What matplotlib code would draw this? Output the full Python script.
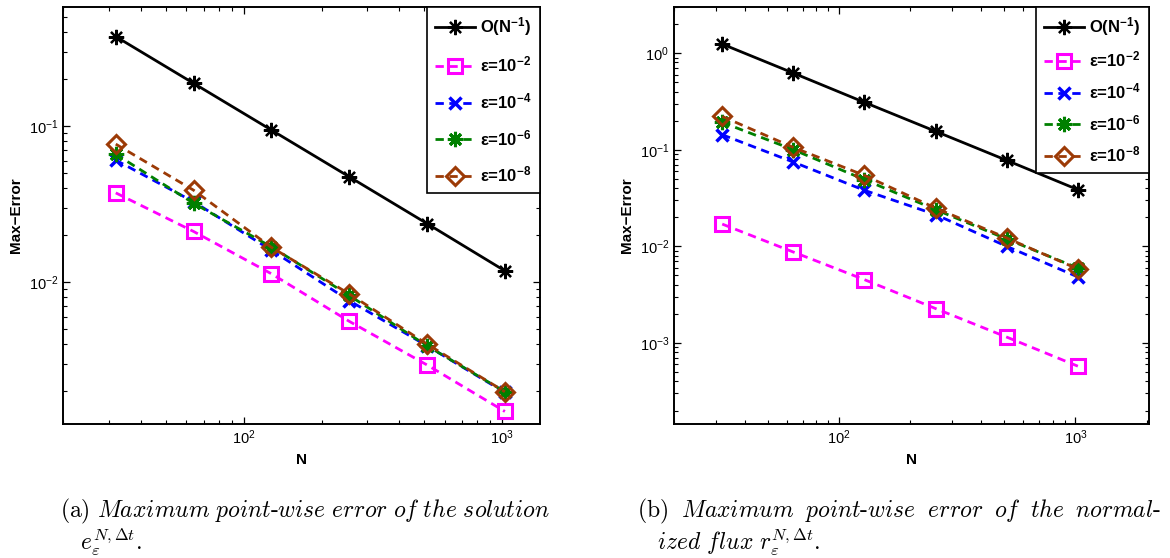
import numpy as np
import matplotlib
matplotlib.use('Agg')
import matplotlib.pyplot as plt

plt.rcParams['font.family'] = ['Liberation Sans', 'DejaVu Sans']
plt.rcParams['mathtext.fontset'] = 'custom'
plt.rcParams['mathtext.rm'] = 'Liberation Sans'
plt.rcParams['mathtext.bf'] = 'Liberation Sans:bold'
plt.rcParams['mathtext.it'] = 'Liberation Sans:italic'

# ---- data ----
N = [32, 64, 128, 256, 512, 1024]

# (a) solution error
ref_a   = [0.375, 0.188, 0.0943, 0.0473, 0.0237, 0.0118]
eps2_a  = [0.0373, 0.0211, 0.0113, 0.0056, 0.00294, 0.00148]
eps4_a  = [0.0605, 0.0327, 0.0160, 0.0076, 0.0039, 0.00196]
eps6_a  = [0.066, 0.032, 0.0168, 0.0082, 0.0039, 0.00198]
eps8_a  = [0.0766, 0.0388, 0.0167, 0.0084, 0.0040, 0.00198]

# (b) normalized flux error
ref_b   = [1.24, 0.621, 0.309, 0.155, 0.0776, 0.0386]
eps2_b  = [0.0170, 0.00873, 0.00452, 0.00227, 0.00115, 0.000575]
eps4_b  = [0.143, 0.0745, 0.038, 0.0213, 0.0100, 0.00482]
eps6_b  = [0.192, 0.100, 0.049, 0.024, 0.0119, 0.00597]
eps8_b  = [0.221, 0.1057, 0.0542, 0.0249, 0.0122, 0.00583]

labels = ['O(N$^{\\mathbf{-1}}$)', 'ε=10$^{\\mathbf{-2}}$', 'ε=10$^{\\mathbf{-4}}$',
          'ε=10$^{\\mathbf{-6}}$', 'ε=10$^{\\mathbf{-8}}$']

BROWN = '#9C3A06'
DASH = (3, 2)


def draw(ax, ref, e2, e4, e6, e8, xlim, ylim, spacing):
    ax.plot(N, ref, '-', color='k', lw=2, marker=(8, 2, 0), ms=11, mew=1.6, label=labels[0])
    ax.plot(N, e2, '--', dashes=DASH, color='#FF00FF', lw=2, marker='s', ms=10,
            mfc='none', mew=2.2, label=labels[1])
    ax.plot(N, e4, '--', dashes=DASH, color='#0000FF', lw=2, marker='x', ms=9,
            mew=2.5, label=labels[2])
    ax.plot(N, e6, '--', dashes=DASH, color='#008000', lw=2, marker=(8, 2, 0), ms=11,
            mew=2.2, label=labels[3])
    ax.plot(N, e8, '--', dashes=DASH, color=BROWN, lw=2, marker='D', ms=9,
            mfc='none', mew=2.2, label=labels[4])
    ax.set_xscale('log')
    ax.set_yscale('log')
    ax.set_xlim(*xlim)
    ax.set_ylim(*ylim)
    ax.tick_params(which='both', direction='in', top=True, right=True, labelsize=10.5)
    ax.tick_params(which='major', length=5, width=0.9)
    ax.tick_params(which='minor', length=3, width=0.8)
    for s in ax.spines.values():
        s.set_linewidth(1.4)
    ax.set_xlabel('N', fontsize=11, fontweight='bold', labelpad=4)
    ax.set_ylabel('Max\u2212Error', fontsize=11, fontweight='bold', labelpad=4)
    leg = ax.legend(loc='upper right', prop={'size': 12, 'weight': 'bold'}, frameon=True,
                    fancybox=False, edgecolor='k', framealpha=1, handlelength=2.4,
                    labelspacing=spacing, borderaxespad=0, borderpad=0.5, handletextpad=0.3)
    leg.get_frame().set_linewidth(1.2)


fig = plt.figure(figsize=(11.7, 5.58), dpi=100)
W, H = 1170, 558
ax1 = fig.add_axes([63 / W, (H - 424) / H, (540 - 63) / W, (424 - 7) / H])
ax2 = fig.add_axes([674 / W, (H - 424) / H, (1149 - 674) / W, (424 - 7) / H])

draw(ax1, ref_a, eps2_a, eps4_a, eps6_a, eps8_a, (20, 1400), (0.00123, 0.58), 1.0)
draw(ax2, ref_b, eps2_b, eps4_b, eps6_b, eps8_b, (20, 2048), (1.45e-4, 3.0), 0.7)

cap = dict(fontsize=17, math_fontfamily='cm', va='top', ha='left', linespacing=1.0)
fig.text(60 / W, 1 - 497 / H,
         r'$\mathrm{(a)}\ \mathit{Maximum\ point\text{-}wise\ error\ of\ the\ solution}$'
         '\n'
         r'$\quad e_{\varepsilon}^{N,\Delta t}.$', **cap)
fig.text(637 / W, 1 - 497 / H,
         r'$\mathrm{(b)}\ \;\mathit{Maximum\ \;point\text{-}wise\ \;error\ \;of\ \;the\ \;normal\text{-}}$'
         '\n'
         r'$\quad \mathit{ized\ flux}\ r_{\varepsilon}^{N,\Delta t}.$', **cap)

fig.savefig('out.png', dpi=100)
